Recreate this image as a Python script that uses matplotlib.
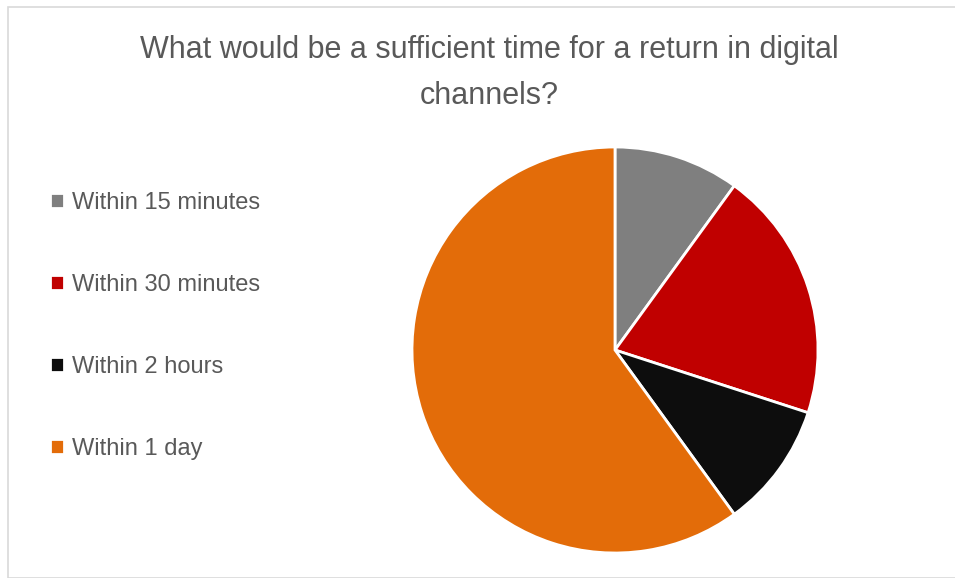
import matplotlib.pyplot as plt
from matplotlib import font_manager
from matplotlib.patches import Rectangle

# 数据
labels = ['Within 15 minutes', 'Within 30 minutes', 'Within 2 hours', 'Within 1 day']
shares = [10, 20, 10, 60]
colors = ['#7f7f7f', '#c00000', '#0d0d0d', '#e36c09']
title = 'What would be a sufficient time for a return in digital\nchannels?'

# 优先用窄体字
names = {f.name for f in font_manager.fontManager.ttflist}
if 'Liberation Sans Narrow' in names:
    plt.rcParams['font.family'] = ['Liberation Sans Narrow', 'DejaVu Sans']
    title_size, legend_size = 26, 20
else:
    plt.rcParams['font.family'] = ['Liberation Sans', 'DejaVu Sans']
    title_size, legend_size = 22, 17

W, H = 955, 578
fig = plt.figure(figsize=(W / 100, H / 100), dpi=100)

# 外框
fig.patches.append(Rectangle((8 / W, 0), 1, 1 - 7 / H, transform=fig.transFigure,
                             fill=False, edgecolor='#d9d9d9', linewidth=1.2))

# 饼图位置 (像素)
cx, cy, r = 615, 350, 203
ax = fig.add_axes([(cx - r) / W, (H - cy - r) / H, 2 * r / W, 2 * r / H])
wedges, _ = ax.pie(shares, colors=colors, startangle=90, counterclock=False,
                   wedgeprops=dict(edgecolor='white', linewidth=2))
ax.set_xlim(-1, 1)
ax.set_ylim(-1, 1)
ax.set_aspect('equal')

fig.text(489 / W, 1 - 73 / H, title, ha='center', va='center', fontsize=title_size,
         color='#595959', linespacing=1.7)

fig.legend(wedges, labels, loc='upper left', bbox_to_anchor=(29 / W, 1 - 171 / H),
           frameon=False, fontsize=legend_size, labelcolor='#595959', handlelength=0.6,
           handleheight=0.6, handletextpad=0.3, labelspacing=2.54)

plt.savefig('out.png', dpi=100)
